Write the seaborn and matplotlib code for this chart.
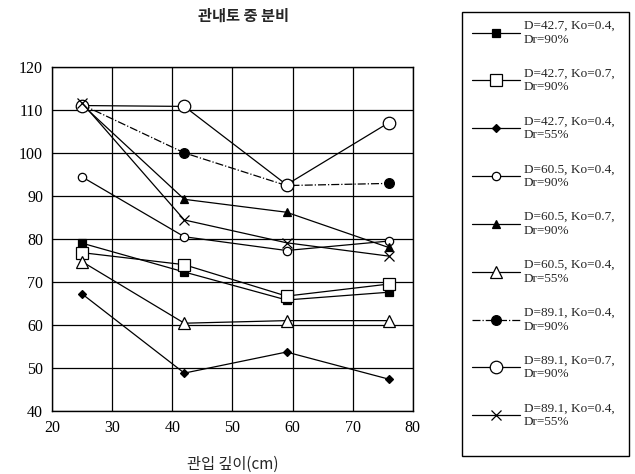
import numpy as np
import pandas as pd
import matplotlib
matplotlib.use("Agg")
import matplotlib.pyplot as plt
from matplotlib.patches import Rectangle
import seaborn as sns

depth = [25, 42, 59, 76]
labels = [
    "D=42.7, Ko=0.4,\nDr=90%",
    "D=42.7, Ko=0.7,\nDr=90%",
    "D=42.7, Ko=0.4,\nDr=55%",
    "D=60.5, Ko=0.4,\nDr=90%",
    "D=60.5, Ko=0.7,\nDr=90%",
    "D=60.5, Ko=0.4,\nDr=55%",
    "D=89.1, Ko=0.4,\nDr=90%",
    "D=89.1, Ko=0.7,\nDr=90%",
    "D=89.1, Ko=0.4,\nDr=55%",
]
s1 = [79.0, 72.3, 65.8, 67.6]
s2 = [76.8, 74.0, 66.7, 69.5]
s3 = [67.2, 48.8, 53.7, 47.4]
s4 = [94.4, 80.5, 77.3, 79.5]
s5 = [111.2, 89.2, 86.2, 78.0]
s6 = [74.7, 60.4, 61.0, 61.0]
s7 = [111.2, 100.0, 92.4, 92.9]
s8 = [111.0, 110.8, 92.6, 107.0]
s9 = [111.6, 84.4, 79.1, 76.0]
series = [s1, s2, s3, s4, s5, s6, s7, s8, s9]

styles = [
    dict(marker="s", markersize=6, markerfacecolor="black", linestyle="-"),
    dict(marker="s", markersize=8, markerfacecolor="white", linestyle="-"),
    dict(marker="D", markersize=4, markerfacecolor="black", linestyle="-"),
    dict(marker="o", markersize=6, markerfacecolor="white", linestyle="-"),
    dict(marker="^", markersize=6, markerfacecolor="black", linestyle="-"),
    dict(marker="^", markersize=8, markerfacecolor="white", linestyle="-"),
    dict(marker="o", markersize=7, markerfacecolor="black", linestyle="-."),
    dict(marker="o", markersize=9, markerfacecolor="white", linestyle="-"),
    dict(marker="x", markersize=7, markerfacecolor="black", linestyle="-"),
]

sns.set_theme(style="white")
plt.rcParams["font.family"] = ["Liberation Serif", "Noto Sans CJK KR"]

fig = plt.figure(figsize=(6.35, 4.74), dpi=100)
ax = fig.add_axes([0.082, 0.133, 0.568, 0.726])

for lab, vals, st in zip(labels, series, styles):
    df = pd.DataFrame({"depth": depth, "ratio": vals})
    sns.lineplot(data=df, x="depth", y="ratio", ax=ax, color="black",
                 linewidth=0.9, markeredgecolor="black", markeredgewidth=0.9,
                 label=lab, **st)

handles, labs = ax.get_legend_handles_labels()
if ax.get_legend() is not None:
    ax.get_legend().remove()

ax.set_xlim(20, 80)
ax.set_ylim(40, 120)
ax.set_xticks(np.arange(20, 81, 10))
ax.set_yticks(np.arange(40, 121, 10))
ax.tick_params(axis="both", labelsize=11.5, colors="black", length=3, direction="out")
ax.grid(True, color="black", linewidth=0.9)
for sp in ax.spines.values():
    sp.set_color("black")
    sp.set_linewidth(1.0)

ax.set_xlabel("관입 깊이(cm)", fontsize=11, family=["Noto Sans CJK KR"], labelpad=14)
ax.set_ylabel("")
ax.set_title("관내토 중 분비", fontsize=11, fontweight="bold",
             family=["Noto Sans CJK KR"], pad=33, x=0.53)

leg = fig.legend(handles, labs, loc="upper left",
                 bbox_to_anchor=(0.728, 0.979, 0.261, 0.0), mode="expand",
                 frameon=False,
                 fontsize=9.5, handlelength=3.6, labelspacing=1.67,
                 borderpad=0.75, handletextpad=0.3, borderaxespad=0)

frame = Rectangle((462 / 635, 1 - 456 / 474), (629 - 462) / 635, (456 - 12) / 474,
                  transform=fig.transFigure, fill=False, edgecolor="black",
                  linewidth=1.0)
fig.patches.append(frame)

fig.savefig("out.png", dpi=100)
